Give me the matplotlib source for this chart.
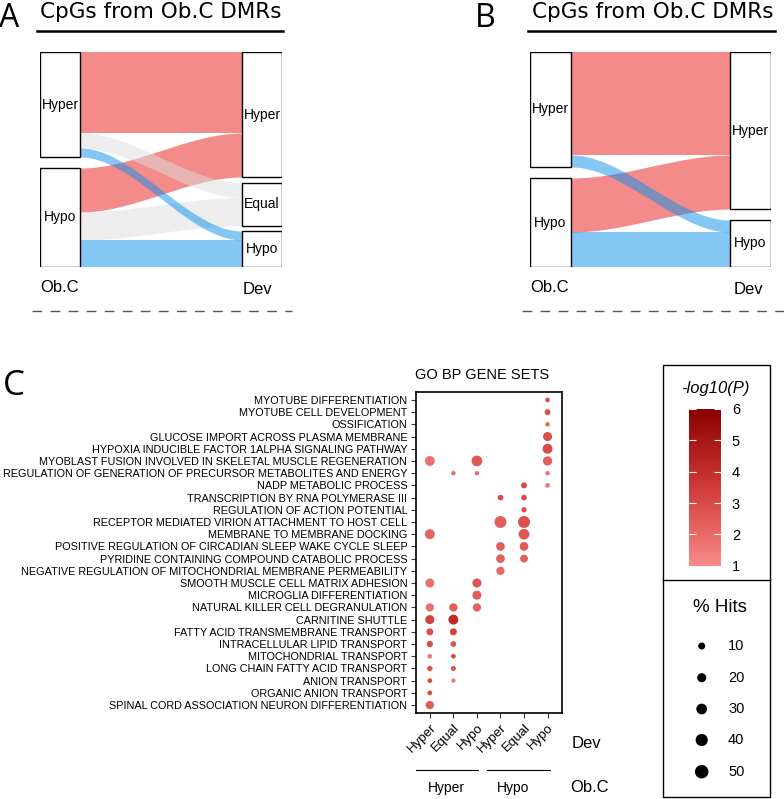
import numpy as np
import matplotlib
matplotlib.use("Agg")
import matplotlib.pyplot as plt
from matplotlib.patches import Rectangle
from matplotlib.colors import LinearSegmentedColormap, Normalize
from matplotlib.cm import ScalarMappable

plt.rcParams["font.family"] = ["Liberation Sans", "DejaVu Sans"]
plt.rcParams["lines.scale_dashes"] = False

W, H = 784, 799

# ---- panels A/B: alluvial counts (Ob.C -> Dev) ----
obc_levels = ["Hyper", "Hypo"]
dev_levels_a = ["Hyper", "Equal", "Hypo"]
src_a = ["Hyper", "Hyper", "Hyper", "Hypo", "Hypo", "Hypo"]
dst_a = ["Hyper", "Equal", "Hypo", "Hyper", "Equal", "Hypo"]
n_a = [81, 15, 9, 44, 28, 27]

dev_levels_b = ["Hyper", "Hypo"]
src_b = ["Hyper", "Hyper", "Hypo", "Hypo"]
dst_b = ["Hyper", "Hypo", "Hyper", "Hypo"]
n_b = [103, 12, 54, 35]

flow_colors = {"Hyper": "#E81818", "Equal": "#DCDCDC", "Hypo": "#0B8FEB"}

# ---- panel C: GO BP dot plot ----
go_terms = [
    "MYOTUBE DIFFERENTIATION",
    "MYOTUBE CELL DEVELOPMENT",
    "OSSIFICATION",
    "GLUCOSE IMPORT ACROSS PLASMA MEMBRANE",
    "HYPOXIA INDUCIBLE FACTOR 1ALPHA SIGNALING PATHWAY",
    "MYOBLAST FUSION INVOLVED IN SKELETAL MUSCLE REGENERATION",
    "REGULATION OF GENERATION OF PRECURSOR METABOLITES AND ENERGY",
    "NADP METABOLIC PROCESS",
    "TRANSCRIPTION BY RNA POLYMERASE III",
    "REGULATION OF ACTION POTENTIAL",
    "RECEPTOR MEDIATED VIRION ATTACHMENT TO HOST CELL",
    "MEMBRANE TO MEMBRANE DOCKING",
    "POSITIVE REGULATION OF CIRCADIAN SLEEP WAKE CYCLE SLEEP",
    "PYRIDINE CONTAINING COMPOUND CATABOLIC PROCESS",
    "NEGATIVE REGULATION OF MITOCHONDRIAL MEMBRANE PERMEABILITY",
    "SMOOTH MUSCLE CELL MATRIX ADHESION",
    "MICROGLIA DIFFERENTIATION",
    "NATURAL KILLER CELL DEGRANULATION",
    "CARNITINE SHUTTLE",
    "FATTY ACID TRANSMEMBRANE TRANSPORT",
    "INTRACELLULAR LIPID TRANSPORT",
    "MITOCHONDRIAL TRANSPORT",
    "LONG CHAIN FATTY ACID TRANSPORT",
    "ANION TRANSPORT",
    "ORGANIC ANION TRANSPORT",
    "SPINAL CORD ASSOCIATION NEURON DIFFERENTIATION",
]
dev_cols = ["Hyper", "Equal", "Hypo", "Hyper", "Equal", "Hypo"]
obc_groups = ["Hyper", "Hypo"]

dot_row = [0, 1, 2, 3, 4, 5, 5, 5, 6, 6, 6, 7, 7, 8, 8, 9, 10, 10, 11, 11,
           12, 12, 13, 13, 14, 15, 15, 16, 17, 17, 17, 18, 18, 19, 19, 20, 20,
           21, 21, 22, 22, 23, 23, 24, 25]
dot_col = [5, 5, 5, 5, 5, 0, 2, 5, 1, 2, 5, 4, 5, 3, 4, 4, 3, 4, 0, 4,
           3, 4, 3, 4, 3, 0, 2, 2, 0, 1, 2, 0, 1, 0, 1, 0, 1,
           0, 1, 0, 1, 0, 1, 0, 0]
dot_hits = [2, 6, 1, 20, 25, 25, 30, 21, 1, 1, 1, 6, 2, 5, 5, 4, 38, 38, 25, 30,
            18, 18, 18, 14, 16, 20, 20, 20, 16, 16, 16, 20, 25, 10, 10, 7, 5,
            2, 2, 4, 3, 2, 1, 2, 16]
dot_logp = [2.8, 2.8, 2.3, 2.8, 3.0, 1.8, 2.6, 2.4, 2.0, 2.0, 1.8, 3.0, 1.6, 3.0, 3.0, 2.8, 2.4, 2.8, 2.2, 2.6,
            2.4, 2.5, 2.3, 2.3, 2.0, 1.8, 2.6, 2.4, 1.8, 2.4, 2.2, 3.3, 4.2, 2.8, 3.3, 3.0, 2.8,
            1.6, 3.0, 2.8, 2.8, 3.0, 1.6, 3.0, 2.5]

legend_hits = [10, 20, 30, 40, 50]
cbar_ticks = [1, 2, 3, 4, 5, 6]


def hits_to_size(h):
    # marker area (pt^2), linear in % hits
    h = np.asarray(h, dtype=float)
    return 0.5184 * (15.7 + 3.33 * h)


def px_axes(x0, y0, x1, y1):
    return fig.add_axes([x0 / W, 1 - y1 / H, (x1 - x0) / W, (y1 - y0) / H])


def alluvial(ax, left, right, src, dst, n, node_w):
    total = sum(n)
    gap = 11 / 204 * total

    def stack(names, key):
        sizes = [sum(v for k, v in zip(key, n) if k == nm) for nm in names]
        g = gap / (len(names) - 1)
        tops, y = [], 0
        for s in sizes:
            tops.append(y)
            y += s + g
        return dict(zip(names, tops)), dict(zip(names, sizes))

    ltop, lsize = stack(left, src)
    rtop, rsize = stack(right, dst)
    lcur, rcur = dict(ltop), dict(rtop)
    idx = range(len(n))
    y0s, y1s = {}, {}
    for i in sorted(idx, key=lambda i: (left.index(src[i]), right.index(dst[i]))):
        y0s[i] = lcur[src[i]]
        lcur[src[i]] += n[i]
    for i in sorted(idx, key=lambda i: (right.index(dst[i]), left.index(src[i]))):
        y1s[i] = rcur[dst[i]]
        rcur[dst[i]] += n[i]

    t = np.linspace(0, 1, 200)
    s = 3 * t ** 2 - 2 * t ** 3
    xs = node_w / 2 + (1 - node_w) * t
    for i in sorted(idx, key=lambda i: right.index(dst[i])):
        top = y0s[i] + (y1s[i] - y0s[i]) * s
        ax.fill_between(xs, top, top + n[i], color=flow_colors[dst[i]],
                        alpha=0.5, lw=0, zorder=1)

    for xc, tops, sizes in [(0, ltop, lsize), (1, rtop, rsize)]:
        for nm in tops:
            ax.add_patch(Rectangle((xc - node_w / 2, tops[nm]), node_w, sizes[nm],
                                   facecolor="white", edgecolor="black", lw=1, zorder=3))
            ax.text(xc, tops[nm] + sizes[nm] / 2, nm, ha="center", va="center",
                    fontsize=10, zorder=4)
    ax.set_xlim(-node_w / 2, 1 + node_w / 2)
    ax.set_ylim(total + gap, 0)
    ax.axis("off")


fig = plt.figure(figsize=(W / 100, H / 100), dpi=100)

# overlay for annotations, in pixel coordinates
ov = fig.add_axes([0, 0, 1, 1])
ov.set_xlim(0, W)
ov.set_ylim(H, 0)
ov.axis("off")

title_font = ["DejaVu Sans"]
letter_font = ["Open Sans", "DejaVu Sans"]

# panel A
ax_a = px_axes(40, 52, 282, 267)
alluvial(ax_a, obc_levels, dev_levels_a, src_a, dst_a, n_a, 40 / 202)
ov.text(-1, 27, "A", fontsize=23, family=letter_font, va="baseline")
ov.text(40, 18.5, "CpGs from Ob.C DMRs", fontsize=15.5, family=title_font, va="baseline")
ov.plot([37, 283], [31, 31], color="black", lw=1.8)
ov.text(40, 288, "Ob.C", fontsize=12, va="center")
ov.text(243, 289, "Dev", fontsize=12, va="center")
ov.plot([32, 292], [311, 311], color="#555555", lw=1, dashes=(7, 6))

# panel B
ax_b = px_axes(530, 52, 771, 267)
alluvial(ax_b, obc_levels, dev_levels_b, src_b, dst_b, n_b, 41 / 200)
ov.text(475, 27, "B", fontsize=23, family=letter_font, va="baseline")
ov.text(532, 18.5, "CpGs from Ob.C DMRs", fontsize=15.5, family=title_font, va="baseline")
ov.plot([528, 775], [31, 31], color="black", lw=1.8)
ov.text(530, 288, "Ob.C", fontsize=12, va="center")
ov.text(734, 289, "Dev", fontsize=12, va="center")
ov.plot([522, 784], [311, 311], color="#555555", lw=1, dashes=(7, 6))

# panel C
cmap = LinearSegmentedColormap.from_list(
    "logp", [(0, "#F88A8A"), (0.5, "#D03A36"), (1, "#8B0000")])
norm = Normalize(vmin=1, vmax=6)

ax_c = px_axes(415.7, 392, 561.7, 713)
ax_c.scatter(dot_col, dot_row, s=hits_to_size(dot_hits), c=dot_logp,
             cmap=cmap, norm=norm, linewidths=0, zorder=3)
ax_c.set_xlim(-0.6, 5.6)
ax_c.set_ylim(len(go_terms) - 0.35, -0.65)
ax_c.set_yticks(range(len(go_terms)))
ax_c.set_yticklabels(go_terms, fontsize=7.8)
ax_c.set_xticks(range(len(dev_cols)))
ax_c.set_xticklabels(dev_cols, fontsize=9.5, rotation=45, ha="right", va="top",
                     rotation_mode="anchor")
ax_c.tick_params(length=3.5, width=0.8, pad=2.5, color="#333333")
for sp in ax_c.spines.values():
    sp.set_linewidth(1.2)

ov.text(14, 386, "C", fontsize=25, family=letter_font, ha="center", va="center")
ov.text(481.7, 375, "GO BP GENE SETS", fontsize=10.5, ha="center", va="center")
ov.text(572, 743, "Dev", fontsize=12, va="center")
ov.text(570, 788, "Ob.C", fontsize=12, va="center")
ov.plot([415.7, 478.3], [770, 770], color="black", lw=0.8)
ov.plot([486.7, 550], [770, 770], color="black", lw=0.8)
ov.text(446.5, 788, obc_groups[0], fontsize=10, ha="center", va="center")
ov.text(512.8, 788, obc_groups[1], fontsize=10, ha="center", va="center")

# legend box
ov.add_patch(Rectangle((663, 365), 107, 431.7, facecolor="none", edgecolor="black", lw=1))
ov.plot([663, 770], [580, 580], color="black", lw=1)
ov.text(715, 388, "-log10(P)", fontsize=12, style="italic", ha="center", va="center")

cax = px_axes(689, 409, 720.7, 565.7)
cb = fig.colorbar(ScalarMappable(norm=norm, cmap=cmap), cax=cax)
cb.outline.set_visible(False)
cb.set_ticks(cbar_ticks)
cax.yaxis.set_ticks_position("both")
cax.tick_params(direction="in", length=5, width=0.8, color="white",
                labelsize=10.5, pad=8, labelright=True, labelleft=False)

ov.text(720, 607, "% Hits", fontsize=13.5, ha="center", va="center")
leg_y = [646, 677.7, 709, 740, 771.7]
ov.scatter([701.7] * len(legend_hits), leg_y, s=hits_to_size(legend_hits),
           color="black", linewidths=0)
for yy, h in zip(leg_y, legend_hits):
    ov.text(728, yy, str(h), fontsize=10.5, va="center")

fig.savefig("out.png", dpi=100)
